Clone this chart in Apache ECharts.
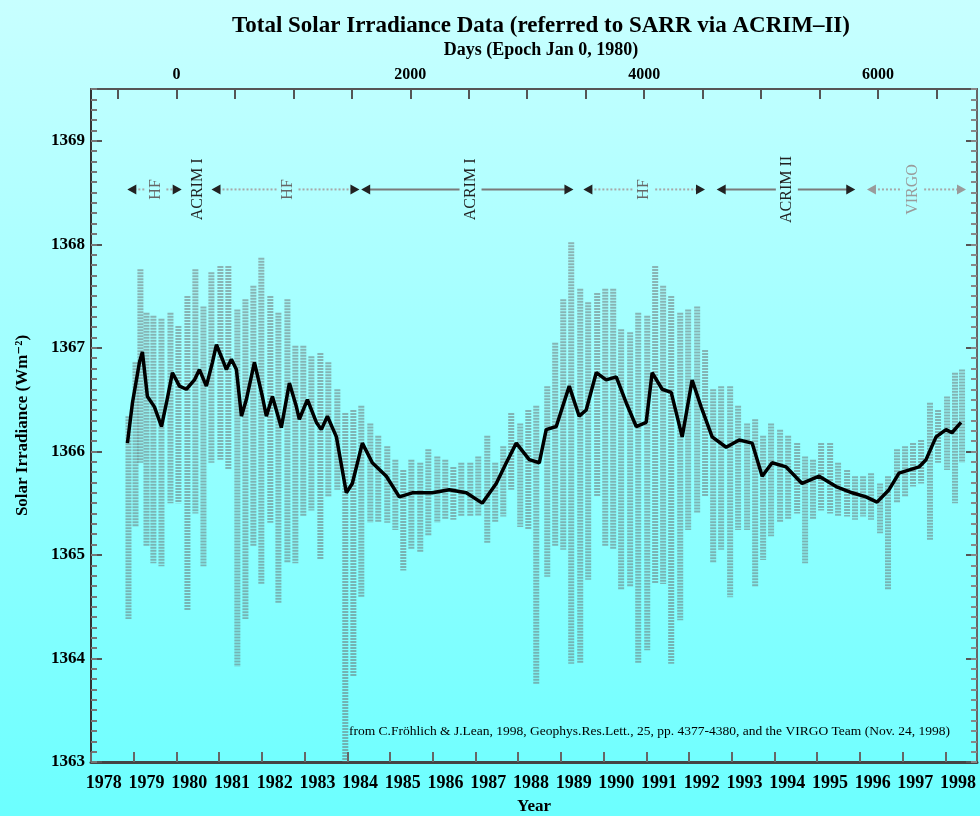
<!DOCTYPE html>
<html>
<head>
<meta charset="utf-8">
<title>Total Solar Irradiance Data</title>
<script src="https://cdn.jsdelivr.net/npm/echarts@6/dist/echarts.min.js"></script>
<style>
html, body { margin: 0; padding: 0; }
#chart { width: 980px; height: 816px; }
</style>
</head>
<body>
<div id="chart"></div>
<script>
// daily record, summarised as high / low per bin (days since Jan 0, 1980)
const binDays = [-410, -350, -308, -256, -197, -128, -51, 17, 94, 162, 231, 299, 376, 444, 521, 590, 658, 726, 803, 872,
    949, 1017, 1085, 1154, 1231, 1299, 1376, 1444, 1513, 1581, 1658, 1726, 1803, 1872, 1940, 2009, 2085, 2154, 2231, 2299,
    2368, 2436, 2513, 2581, 2658, 2726, 2795, 2863, 2940, 3009, 3077, 3171, 3239, 3308, 3376, 3453, 3521, 3598, 3667, 3735,
    3803, 3880, 3949, 4026, 4094, 4162, 4231, 4308, 4376, 4453, 4521, 4590, 4658, 4735, 4803, 4880, 4949, 5017, 5085, 5162,
    5231, 5308, 5376, 5444, 5513, 5590, 5658, 5735, 5803, 5872, 5940, 6017, 6085, 6162, 6231, 6299, 6368, 6444, 6513, 6590,
    6658, 6718];
const binHigh = [1366.34, 1366.86, 1367.76, 1367.34, 1367.31, 1367.28, 1367.34, 1367.21, 1367.50, 1367.76,
    1367.40, 1367.73, 1367.79, 1367.79, 1367.37, 1367.47, 1367.60, 1367.87, 1367.50, 1367.34,
    1367.47, 1367.02, 1367.02, 1366.92, 1366.95, 1366.86, 1366.60, 1366.37, 1366.40, 1366.44,
    1366.27, 1366.15, 1366.05, 1365.92, 1365.82, 1365.92, 1365.89, 1366.02, 1365.95, 1365.92,
    1365.85, 1365.89, 1365.89, 1365.95, 1366.15, 1365.89, 1366.05, 1366.37, 1366.27, 1366.40,
    1366.44, 1366.63, 1367.05, 1367.47, 1368.02, 1367.57, 1367.44, 1367.53, 1367.57, 1367.57,
    1367.18, 1367.15, 1367.34, 1367.31, 1367.79, 1367.60, 1367.50, 1367.34, 1367.37, 1367.40,
    1366.98, 1366.60, 1366.63, 1366.63, 1366.44, 1366.27, 1366.31, 1366.15, 1366.27, 1366.21,
    1366.15, 1366.08, 1365.95, 1365.92, 1366.08, 1366.08, 1365.89, 1365.82, 1365.76, 1365.76,
    1365.79, 1365.69, 1365.76, 1366.02, 1366.05, 1366.08, 1366.11, 1366.47, 1366.40, 1366.53,
    1366.76, 1366.79];
const binLow = [1364.38, 1365.27, 1365.89, 1365.08, 1364.92, 1364.89, 1365.50, 1365.50, 1364.46, 1365.40,
    1364.89, 1365.89, 1365.92, 1365.82, 1363.92, 1364.38, 1365.08, 1364.72, 1365.31, 1364.53,
    1364.92, 1364.92, 1365.37, 1365.43, 1364.95, 1365.56, 1365.63, 1363.00, 1363.82, 1364.59,
    1365.31, 1365.31, 1365.31, 1365.24, 1364.85, 1365.05, 1365.02, 1365.18, 1365.31, 1365.34,
    1365.34, 1365.37, 1365.37, 1365.37, 1365.11, 1365.31, 1365.37, 1365.63, 1365.27, 1365.24,
    1363.75, 1364.79, 1365.08, 1365.05, 1363.95, 1363.95, 1364.76, 1365.56, 1365.08, 1365.05,
    1364.66, 1364.69, 1363.95, 1364.08, 1364.72, 1364.72, 1363.95, 1364.37, 1365.24, 1365.40,
    1365.56, 1364.92, 1365.05, 1364.59, 1365.24, 1365.24, 1364.69, 1364.95, 1365.18, 1365.31,
    1365.34, 1365.40, 1364.92, 1365.34, 1365.43, 1365.40, 1365.37, 1365.37, 1365.34, 1365.37,
    1365.34, 1365.21, 1364.66, 1365.50, 1365.56, 1365.66, 1365.69, 1365.14, 1365.89, 1365.82,
    1365.50, 1365.89];

// running mean (black curve)
const meanDays = [-419, -376, -316, -291, -248, -188, -128, -85, -34, 26, 85, 154, 197, 256, 308, 342, 393, 427, 470, 513,
    556, 598, 667, 735, 769, 821, 897, 966, 1026, 1051, 1120, 1197, 1239, 1291, 1368, 1453, 1504, 1590, 1675, 1795,
    1906, 2017, 2188, 2333, 2479, 2615, 2735, 2821, 2906, 3017, 3103, 3162, 3248, 3359, 3444, 3504, 3590, 3675, 3761, 3846,
    3932, 4017, 4068, 4154, 4231, 4325, 4410, 4487, 4581, 4701, 4812, 4923, 5009, 5094, 5214, 5350, 5496, 5641, 5778, 5897,
    5991, 6094, 6179, 6350, 6410, 6496, 6581, 6632, 6709];
const meanValues = [1366.08, 1366.47, 1366.86, 1366.96, 1366.53, 1366.43, 1366.24, 1366.47, 1366.76, 1366.63,
    1366.60, 1366.69, 1366.79, 1366.63, 1366.86, 1367.03, 1366.89, 1366.79, 1366.89, 1366.79,
    1366.34, 1366.50, 1366.86, 1366.53, 1366.34, 1366.53, 1366.23, 1366.66, 1366.43, 1366.31,
    1366.50, 1366.28, 1366.21, 1366.34, 1366.14, 1365.60, 1365.69, 1366.08, 1365.89, 1365.76,
    1365.56, 1365.60, 1365.60, 1365.63, 1365.60, 1365.50, 1365.69, 1365.89, 1366.08, 1365.92,
    1365.89, 1366.21, 1366.24, 1366.63, 1366.34, 1366.40, 1366.76, 1366.69, 1366.72, 1366.47,
    1366.24, 1366.28, 1366.76, 1366.60, 1366.57, 1366.14, 1366.69, 1366.43, 1366.14, 1366.04,
    1366.11, 1366.08, 1365.76, 1365.89, 1365.85, 1365.69, 1365.76, 1365.66, 1365.60, 1365.56,
    1365.51, 1365.63, 1365.79, 1365.85, 1365.92, 1366.14, 1366.21, 1366.18, 1366.28];

// instrument periods
const instNames = ['HF', 'ACRIM I', 'HF', 'ACRIM I', 'HF', 'ACRIM II', 'VIRGO'];
const instStart = [-420, 180, 300, 1580, 3480, 4620, 5905];
const instEnd = [45, 180, 1565, 3395, 4520, 5805, 6752];
const instLabelAt = [-180, 180, 950, 2515, 4000, 5220, 6300];
const instSolid = [false, true, false, true, false, true, false];
const instLevel = 1368.53;

const yearTicks = [1978, 1979, 1980, 1981, 1982, 1983, 1984, 1985, 1986, 1987, 1988,
    1989, 1990, 1991, 1992, 1993, 1994, 1995, 1996, 1997, 1998];
const dayLabels = [0, 2000, 4000, 6000];
const dayTicks = [-500, 0, 500, 1000, 1500, 2000, 2500, 3000, 3500, 4000, 4500, 5000, 5500, 6000, 6500];

const SERIF = '"Liberation Serif", "DejaVu Serif", serif';

const chart = echarts.init(document.getElementById('chart'));

const renderBin = (params, api) => {
    const top = api.coord([api.value(0), api.value(2)]);
    const bot = api.coord([api.value(0), api.value(1)]);
    return {
        type: 'line',
        shape: {x1: top[0], y1: top[1], x2: bot[0], y2: bot[1]},
        style: {stroke: 'rgba(105,105,105,0.5)', lineWidth: 6, lineDash: [2, 1]}
    };
};

const renderInst = (params, api) => {
    const i = api.value(3);
    const y = api.coord([0, instLevel])[1];
    const xs = api.coord([api.value(0), instLevel])[0];
    const xe = api.coord([api.value(1), instLevel])[0];
    const xl = api.coord([api.value(2), instLevel])[0];
    const solid = instSolid[i];
    const isVirgo = instNames[i] === 'VIRGO';
    const arrowCol = isVirgo ? '#9a9a9a' : '#222';
    const children = [];
    if (xe > xs) {
        const lineStyle = solid
            ? {stroke: '#7a7a7a', lineWidth: 2}
            : {stroke: '#a8a8a8', lineWidth: 2, lineDash: [2, 2]};
        const gap = 11;
        children.push({type: 'line', shape: {x1: xs + 7, y1: y, x2: xl - gap, y2: y}, style: lineStyle});
        children.push({type: 'line', shape: {x1: xl + gap, y1: y, x2: xe - 7, y2: y}, style: lineStyle});
        children.push({type: 'polygon', shape: {points: [[xs, y], [xs + 9, y - 5], [xs + 9, y + 5]]}, style: {fill: arrowCol}});
        children.push({type: 'polygon', shape: {points: [[xe, y], [xe - 9, y - 5], [xe - 9, y + 5]]}, style: {fill: arrowCol}});
    }
    children.push({
        type: 'text', x: xl, y: y, rotation: Math.PI / 2,
        style: {
            text: instNames[i], font: '16px ' + SERIF,
            fill: isVirgo ? '#9a9a9a' : (solid ? '#222' : '#666'),
            align: 'center', verticalAlign: 'middle'
        }
    });
    return {type: 'group', children};
};

const option = {
    animation: false,
    backgroundColor: new echarts.graphic.LinearGradient(0, 0, 0, 1, [
        {offset: 0, color: '#c8ffff'},
        {offset: 1, color: '#6cffff'}
    ]),
    textStyle: {fontFamily: SERIF},
    graphic: [
        {
            type: 'text', x: 541, y: 26,
            style: {
                text: 'Total Solar Irradiance Data (referred to SARR via ACRIM\u2013II)',
                font: 'bold 23px ' + SERIF, fill: '#000', align: 'center', verticalAlign: 'middle'
            }
        },
        {
            type: 'text', x: 541, y: 50,
            style: {
                text: 'Days (Epoch Jan 0, 1980)',
                font: 'bold 18px ' + SERIF, fill: '#000', align: 'center', verticalAlign: 'middle'
            }
        },
        {
            type: 'text', x: 349, y: 731,
            style: {
                text: 'from C.Fr\u00f6hlich & J.Lean, 1998, Geophys.Res.Lett., 25, pp. 4377-4380, and the VIRGO Team (Nov. 24, 1998)',
                font: '13.5px ' + SERIF, fill: '#000', align: 'left', verticalAlign: 'middle'
            }
        }
    ],
    grid: {left: 91, right: 3, top: 89, bottom: 54, outerBoundsMode: 'none', containLabel: false},
    xAxis: [
        {
            type: 'value', position: 'top', min: -730.5, max: 6846,
            axisLine: {onZero: false, lineStyle: {color: '#555', width: 2}},
            axisTick: {inside: true, length: 10, customValues: dayTicks, lineStyle: {color: '#555', width: 2}},
            axisLabel: {
                customValues: dayLabels, margin: 6, formatter: v => String(v),
                color: '#000', fontWeight: 'bold', fontSize: 16, fontFamily: SERIF
            },
            splitLine: {show: false}
        },
        {
            type: 'value', position: 'bottom', min: 1978, max: 1998.743,
            name: 'Year', nameLocation: 'middle', nameGap: 36,
            nameTextStyle: {color: '#000', fontWeight: 'bold', fontSize: 17, fontFamily: SERIF},
            axisLine: {onZero: false, lineStyle: {color: '#444', width: 3}},
            axisTick: {inside: true, length: 10, customValues: yearTicks, lineStyle: {color: '#666', width: 2}},
            axisLabel: {
                customValues: yearTicks.map(v => v + 0.3), margin: 12,
                formatter: v => String(Math.floor(v)),
                color: '#000', fontWeight: 'bold', fontSize: 18, fontFamily: SERIF
            },
            splitLine: {show: false}
        }
    ],
    yAxis: [
        {
            type: 'value', position: 'left', min: 1363, max: 1369.5, interval: 1,
            name: 'Solar Irradiance (Wm\u207b\u00b2)', nameLocation: 'middle', nameGap: 60,
            nameTextStyle: {color: '#000', fontWeight: 'bold', fontSize: 17, fontFamily: SERIF},
            axisLine: {show: true, onZero: false, lineStyle: {color: '#333', width: 2}},
            axisTick: {inside: true, length: 11, lineStyle: {color: '#555', width: 2}},
            axisLabel: {
                margin: 6, formatter: v => Number.isInteger(v) ? String(v) : '',
                color: '#000', fontWeight: 'bold', fontSize: 17, fontFamily: SERIF
            },
            splitLine: {show: false}
        },
        {
            type: 'value', position: 'left', min: 1363, max: 1369.5, interval: 0.1,
            axisLine: {show: false, onZero: false},
            axisTick: {inside: true, length: 6, lineStyle: {color: '#777', width: 2}},
            axisLabel: {show: false},
            splitLine: {show: false}
        },
        {
            type: 'value', position: 'right', min: 1363, max: 1369.5, interval: 1,
            axisLine: {show: true, onZero: false, lineStyle: {color: '#666', width: 2}},
            axisTick: {inside: true, length: 11, lineStyle: {color: '#555', width: 2}},
            axisLabel: {show: false},
            splitLine: {show: false}
        },
        {
            type: 'value', position: 'right', min: 1363, max: 1369.5, interval: 0.1,
            axisLine: {show: false, onZero: false},
            axisTick: {inside: true, length: 6, lineStyle: {color: '#888', width: 2}},
            axisLabel: {show: false},
            splitLine: {show: false}
        }
    ],
    series: [
        {
            type: 'custom', xAxisIndex: 0, yAxisIndex: 0, z: 2,
            renderItem: renderBin,
            data: binDays.map((d, i) => [d, binLow[i], binHigh[i]])
        },
        {
            type: 'line', xAxisIndex: 0, yAxisIndex: 0, z: 3,
            showSymbol: false,
            lineStyle: {color: '#000', width: 3.5},
            data: meanDays.map((d, i) => [d, meanValues[i]])
        },
        {
            type: 'custom', xAxisIndex: 0, yAxisIndex: 0, z: 4,
            renderItem: renderInst,
            data: instNames.map((n, i) => [instStart[i], instEnd[i], instLabelAt[i], i])
        }
    ]
};

chart.setOption(option);
</script>
</body>
</html>
